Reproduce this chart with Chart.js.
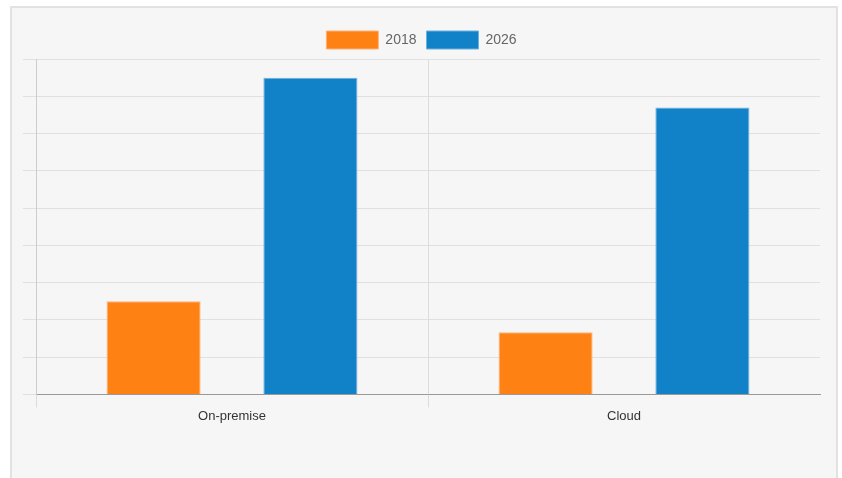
<!DOCTYPE html>
<html>
<head>
<meta charset="utf-8">
<script src="https://cdn.jsdelivr.net/npm/chart.js@4"></script>
<style>
  html, body { margin: 0; padding: 0; background: #fff; }
  .frame {
    position: absolute; left: 10px; top: 6px; width: 824px; height: 478px;
    background: #f6f6f6; border: 2px solid #e2e2e2; border-bottom: none;
  }
  .wrap { position: absolute; left: 0; top: 0; width: 842px; height: 478px; }
</style>
</head>
<body>
<div class="frame"></div>
<div class="wrap"><canvas id="chart"></canvas></div>
<script>
// values
const categories = ['On-premise', 'Cloud'];
const years = ['2018', '2026'];
const values2018 = [2.5, 1.67];
const values2026 = [8.5, 7.7];

Chart.defaults.font.family = "'Liberation Sans', Arial, sans-serif";

const ctx = document.getElementById('chart').getContext('2d');
new Chart(ctx, {
    type: 'bar',
    data: {
        labels: categories,
        datasets: [
            {
                label: years[0],
                data: values2018,
                backgroundColor: '#fe8114',
                borderColor: '#ffb27a',
                borderWidth: 1
            },
            {
                label: years[1],
                data: values2026,
                backgroundColor: '#1181c8',
                borderColor: '#6fb0dd',
                borderWidth: 1
            }
        ]
    },
    options: {
        responsive: true,
        maintainAspectRatio: false,
        animation: false,
        layout: { padding: { left: 23, right: 22, top: 21, bottom: 53 } },
        datasets: { bar: { categoryPercentage: 0.8, barPercentage: 0.6 } },
        plugins: {
            legend: {
                position: 'top',
                labels: { boxWidth: 52, boxHeight: 18, color: '#666', font: { size: 14 }, padding: 10 }
            },
            tooltip: { enabled: false }
        },
        scales: {
            x: {
                grid: {
                    // the extra edge line on the right gets the scale context (no index)
                    color: c => c.type === 'tick' ? '#dcdcdc' : 'rgba(0,0,0,0)',
                    tickLength: 13,
                    offset: true
                },
                border: { color: '#999' },
                ticks: { color: '#333', font: { size: 13 }, padding: 1 }
            },
            y: {
                min: 0,
                max: 9,
                ticks: { stepSize: 1, display: false },
                grid: { color: '#e0e0e0', tickLength: 13 },
                border: { color: '#ccc' }
            }
        }
    }
});
</script>
</body>
</html>
